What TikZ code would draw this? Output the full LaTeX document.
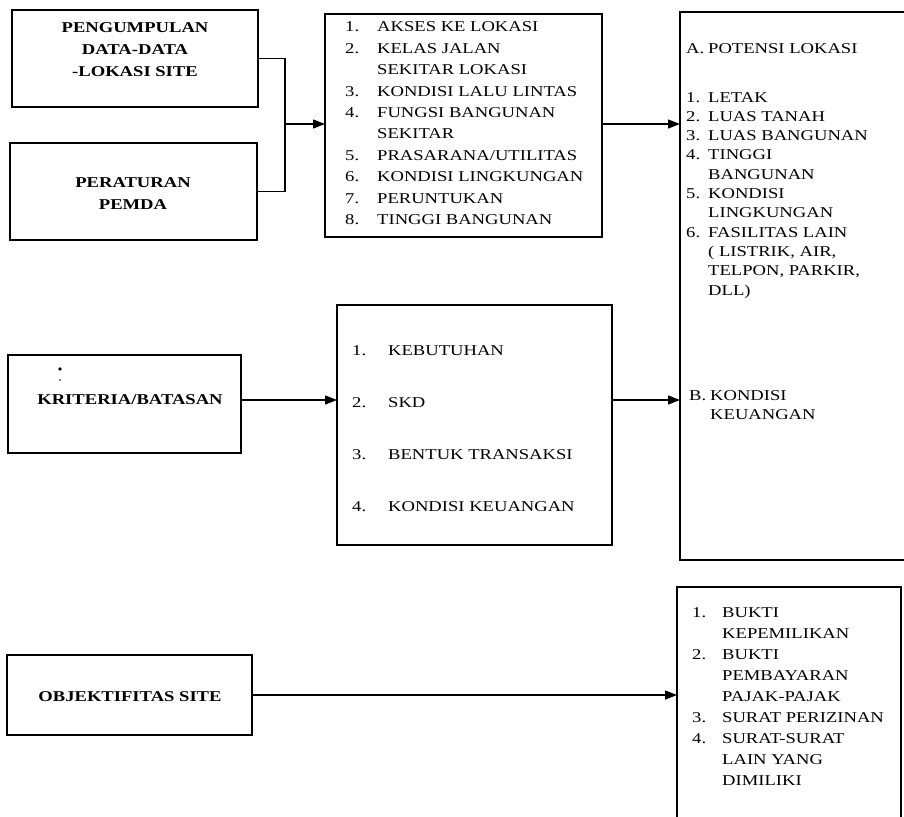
\documentclass[tikz,border=0pt]{standalone}
\usepackage{fontspec}
\setmainfont{Liberation Serif}[FakeStretch=1.24]
\usetikzlibrary{arrows.meta}
\begin{document}
\begin{tikzpicture}[x=1pt,y=-1pt,
  box/.style={draw, line width=1.3pt, inner sep=0pt, outer sep=0pt, anchor=north west},
  lbl/.style={font=\fontsize{15}{22}\selectfont\bfseries, align=center, inner sep=0pt},
  lst/.style={inner sep=0pt, anchor=base west},
  ln/.style={line width=1.3pt},
  arr/.style={line width=1.3pt, -{Triangle[length=12pt,width=9pt]}}]
\useasboundingbox (0,0) rectangle (904,816);
\fill[white] (0,0) rectangle (904,816);

% boxes
\node[box, minimum width=246, minimum height=97] (b1) at (12,10) {};
\node[box, minimum width=247, minimum height=97] (b2) at (10,143) {};
\node[box, minimum width=277, minimum height=223] (b3) at (325,14) {};
\node[box, minimum width=226, minimum height=548] (b4) at (680,12) {};
\node[box, minimum width=233, minimum height=98] (b6) at (8,355) {};
\node[box, minimum width=275, minimum height=240] (b5) at (337,305) {};
\node[box, minimum width=245, minimum height=80] (b7) at (7,655) {};
\node[box, minimum width=224, minimum height=240] (b8) at (677,587) {};

% left labels
\node[lbl] (t1) at (135,50) {PENGUMPULAN\\DATA-DATA\\-LOKASI SITE};
\node[lbl] (t2) at (133,194) {PERATURAN\\PEMDA};
\node[lbl] (t6) at (130,400) {KRITERIA/BATASAN};
\node[lbl] (t7) at (130,697) {OBJEKTIFITAS SITE};
\fill (60,369) circle (1.8);
\fill (60,380) circle (0.9);

% list in box 3
\node[lst] (t3) at (345,32) {\fontsize{15}{21.4}\selectfont
\begin{tabular}[t]{@{}p{32pt}@{}l@{}}
1. & AKSES KE LOKASI\\
2. & KELAS JALAN\\
   & SEKITAR LOKASI\\
3. & KONDISI LALU LINTAS\\
4. & FUNGSI BANGUNAN\\
   & SEKITAR\\
5. & PRASARANA/UTILITAS\\
6. & KONDISI LINGKUNGAN\\
7. & PERUNTUKAN\\
8. & TINGGI BANGUNAN
\end{tabular}};

% right box 4
\node[lst] (t4a) at (686,53) {\fontsize{15}{19.3}\selectfont\makebox[22pt][l]{A.}POTENSI LOKASI};
\node[lst] (t4b) at (686,102) {\fontsize{15}{19.3}\selectfont
\begin{tabular}[t]{@{}p{22pt}@{}l@{}}
1. & LETAK\\
2. & LUAS TANAH\\
3. & LUAS BANGUNAN\\
4. & TINGGI\\
   & BANGUNAN\\
5. & KONDISI\\
   & LINGKUNGAN\\
6. & FASILITAS LAIN\\
   & ( LISTRIK, AIR,\\
   & TELPON, PARKIR,\\
   & DLL)
\end{tabular}};
\node[lst] (t4c) at (689,400) {\fontsize{15}{19}\selectfont
\begin{tabular}[t]{@{}p{21pt}@{}l@{}}
B. & KONDISI\\
   & KEUANGAN
\end{tabular}};

% list in box 5
\node[lst] (t5) at (352,355) {\fontsize{15}{52}\selectfont
\begin{tabular}[t]{@{}p{36pt}@{}l@{}}
1. & KEBUTUHAN\\
2. & SKD\\
3. & BENTUK TRANSAKSI\\
4. & KONDISI KEUANGAN
\end{tabular}};

% list in box 8
\node[lst] (t8) at (692,617) {\fontsize{15}{21}\selectfont
\begin{tabular}[t]{@{}p{30pt}@{}l@{}}
1. & BUKTI\\
   & KEPEMILIKAN\\
2. & BUKTI\\
   & PEMBAYARAN\\
   & PAJAK-PAJAK\\
3. & SURAT PERIZINAN\\
4. & SURAT-SURAT\\
   & LAIN YANG\\
   & DIMILIKI
\end{tabular}};

% connectors
\coordinate (j) at (285,124);
\coordinate (k) at (0,400);
\coordinate (m) at (0,695);
\draw[ln] (b1.east) -| (j) |- (b2.east);
\draw[arr] (j) -- (j -| b3.west);
\draw[arr] (b3.east |- j) -- (j -| b4.west);
\draw[arr] (b6.east |- k) -- (k -| b5.west);
\draw[arr] (b5.east |- k) -- (k -| b4.west);
\draw[arr] (b7.east |- m) -- (m -| b8.west);
\end{tikzpicture}
\end{document}
